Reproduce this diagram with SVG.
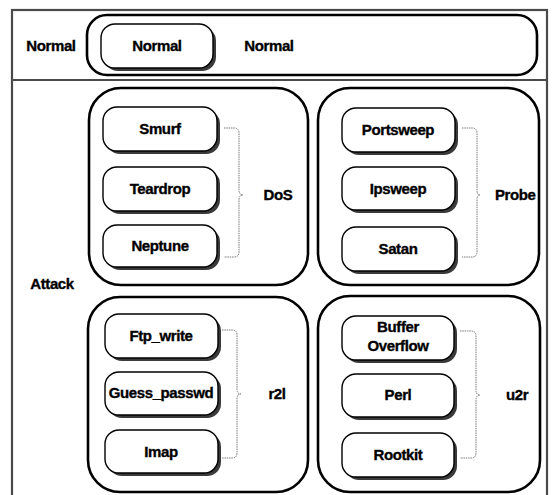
<svg xmlns="http://www.w3.org/2000/svg" width="554" height="495" viewBox="0 0 554 495">
<defs>
<style>
.frame{fill:none;stroke:#4a4a4a;stroke-width:2.2}
.grp{fill:#fff;stroke:#000;stroke-width:2.6}
.sh{fill:#3a3a3a}
.box{fill:#fff;stroke:#000;stroke-width:1.4}
.t{font-family:"Liberation Sans",Arial,sans-serif;font-weight:bold;font-size:15px;fill:#000;stroke:#000;stroke-width:0.35;text-anchor:middle;letter-spacing:-0.4px}
.brace{fill:none;stroke:#7a7a7a;stroke-width:1;stroke-dasharray:1.5 0.8}
</style>
</defs>
<rect x="0" y="0" width="554" height="495" fill="#fff"/>
<g id="frame">
<rect class="frame" x="12" y="10" width="535" height="500"/>
<line class="frame" x1="12" y1="80" x2="547" y2="80"/>
<text class="t" x="51" y="51">Normal</text>
<text class="t" x="52" y="289">Attack</text>
</g>
<g id="normal-group">
<rect class="grp" x="87" y="15" width="450" height="60" rx="20"/>
<text class="t" x="269" y="51">Normal</text>
</g>
<g id="normal-box">
<rect class="sh" x="104" y="27" width="112" height="44" rx="14"/>
<rect class="box" x="101" y="24" width="112" height="44" rx="14"/>
<text class="t" x="157" y="51">Normal</text>
</g>
<g id="dos-group">
<rect class="grp" x="89" y="88" width="219" height="197" rx="32"/>
<text class="t" x="278" y="200">DoS</text>
</g>
<g id="probe-group">
<rect class="grp" x="318" y="88" width="221" height="197" rx="32"/>
<text class="t" x="495" y="200" style="text-anchor:start">Probe</text>
</g>
<g id="r2l-group">
<rect class="grp" x="88" y="297" width="220" height="195" rx="32"/>
<text class="t" x="277" y="399">r2l</text>
</g>
<g id="u2r-group">
<rect class="grp" x="318" y="296" width="222" height="196" rx="32"/>
<text class="t" x="517" y="400">u2r</text>
</g>
<g id="smurf"><rect class="sh" x="106" y="110" width="114" height="44" rx="14"/><rect class="box" x="103" y="107" width="114" height="44" rx="14"/><text class="t" x="160" y="134">Smurf</text></g>
<g id="teardrop"><rect class="sh" x="106" y="170" width="114" height="44" rx="14"/><rect class="box" x="103" y="167" width="114" height="44" rx="14"/><text class="t" x="160" y="194">Teardrop</text></g>
<g id="neptune"><rect class="sh" x="106" y="228" width="114" height="42" rx="14"/><rect class="box" x="103" y="225" width="114" height="42" rx="14"/><text class="t" x="160" y="251">Neptune</text></g>
<g id="portsweep"><rect class="sh" x="345" y="111" width="113" height="44" rx="14"/><rect class="box" x="342" y="108" width="113" height="44" rx="14"/><text class="t" x="398" y="135">Portsweep</text></g>
<g id="ipsweep"><rect class="sh" x="345" y="170" width="113" height="43" rx="14"/><rect class="box" x="342" y="167" width="113" height="43" rx="14"/><text class="t" x="398" y="194">Ipsweep</text></g>
<g id="satan"><rect class="sh" x="345" y="230" width="113" height="44" rx="14"/><rect class="box" x="342" y="227" width="113" height="44" rx="14"/><text class="t" x="398" y="254">Satan</text></g>
<g id="ftp_write"><rect class="sh" x="108" y="317" width="113" height="44" rx="14"/><rect class="box" x="105" y="314" width="113" height="44" rx="14"/><text class="t" x="161" y="341">Ftp_write</text></g>
<g id="guess_passwd"><rect class="sh" x="108" y="375" width="113" height="43" rx="14"/><rect class="box" x="105" y="372" width="113" height="43" rx="14"/><text class="t" x="161" y="398">Guess_passwd</text></g>
<g id="imap"><rect class="sh" x="108" y="433" width="113" height="43" rx="14"/><rect class="box" x="105" y="430" width="113" height="43" rx="14"/><text class="t" x="161" y="457">Imap</text></g>
<g id="buffer_overflow"><rect class="sh" x="345" y="319" width="112" height="44" rx="14"/><rect class="box" x="342" y="316" width="112" height="44" rx="14"/><text class="t" x="398" y="332">Buffer</text><text class="t" x="398" y="351">Overflow</text></g>
<g id="perl"><rect class="sh" x="345" y="377" width="112" height="43" rx="14"/><rect class="box" x="342" y="374" width="112" height="43" rx="14"/><text class="t" x="398" y="400">Perl</text></g>
<g id="rootkit"><rect class="sh" x="345" y="436" width="112" height="44" rx="14"/><rect class="box" x="342" y="433" width="112" height="44" rx="14"/><text class="t" x="398" y="460">Rootkit</text></g>
<g id="connectors">
<path class="brace" d="M224,128 H234 Q239,128 239,133 V190 Q239,195 243,195 Q239,195 239,200 V252 Q239,257 234,257 H224"/>
<path class="brace" d="M462,128 H472 Q477,128 477,133 V190 Q477,195 480,195 Q477,195 477,200 V252 Q477,257 472,257 H462"/>
<path class="brace" d="M222,330 H232 Q237,330 237,335 V389 Q237,394 241,394 Q237,394 237,399 V453 Q237,458 232,458 H222"/>
<path class="brace" d="M460,331 H471 Q476,331 476,336 V390 Q476,395 480,395 Q476,395 476,400 V453 Q476,458 471,458 H460"/>
</g>
</svg>
